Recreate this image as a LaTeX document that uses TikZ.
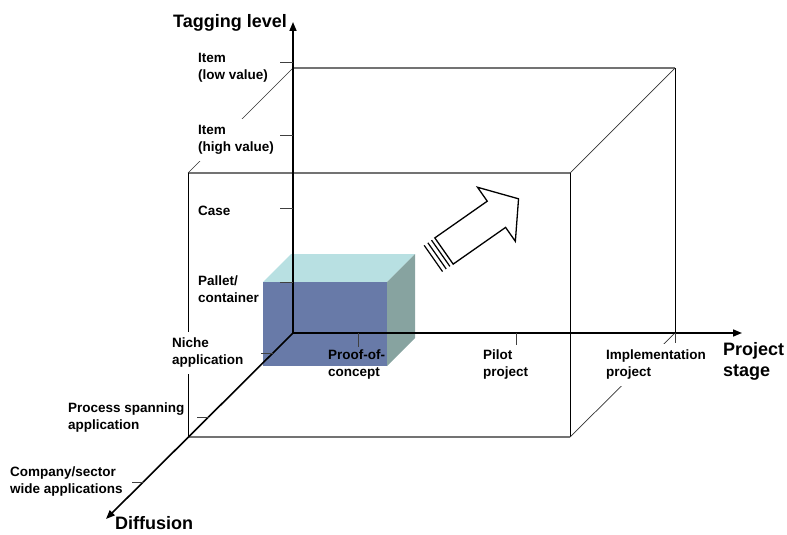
\documentclass[tikz,border=0pt]{standalone}
\usepackage{fontspec}
\setmainfont{Liberation Sans}
\usetikzlibrary{positioning,arrows.meta}

\definecolor{cubefront}{RGB}{104,122,168}
\definecolor{cubetop}{RGB}{184,224,226}
\definecolor{cubeside}{RGB}{135,163,160}

\tikzset{
  axisline/.style={black, line width=1.6pt, -{Triangle[length=9pt,width=7pt]}},
  edgeflat/.style={black!55, line width=1.2pt},
  edgeup/.style={black, line width=0.8pt},
  edgedepth/.style={black!80, line width=0.7pt},
  tickline/.style={black!75, line width=0.9pt},
  lbl/.style={font=\bfseries\fontsize{13.5}{17}\selectfont, align=left, inner sep=0pt},
  biglbl/.style={font=\bfseries\fontsize{18}{21}\selectfont, align=left, inner sep=0pt},
  masked/.style={fill=white, inner xsep=7pt, inner ysep=6pt},
  blockarrow/.style={draw=black, fill=white, line width=1.3pt, line join=miter},
}

\begin{document}
\begin{tikzpicture}[x=1pt,y=-1pt]
  \useasboundingbox (0,0) rectangle (787,535);
  \clip (0,0) rectangle (787,535);

  % axes origin and tips
  \coordinate (O) at (293,333);
  \coordinate (Ytip) at (293,22);
  \coordinate (Xtip) at (742,333);
  \coordinate (Ztip) at (106,519);

  % wire box
  \coordinate (bTL) at (293,68);
  \coordinate (bTR) at (675,68);
  \coordinate (bBR) at (675,333);
  \coordinate (fTL) at (188,173);
  \coordinate (fTR) at (570,173);
  \coordinate (fBR) at (570,437);
  \coordinate (fBL) at (188,437);
  \draw[edgeflat] (bTL) -- (bTR);
  \draw[edgeflat] (fTL) -- (fTR);
  \draw[edgeflat] (fBL) -- (fBR);
  \draw[edgeup] (bTR) -- (bBR);
  \draw[edgeup] (fTL) -- (fBL);
  \draw[edgeup] (fTR) -- (fBR);
  \draw[edgedepth] (fTL) -- (bTL);
  \draw[edgedepth] (fTR) -- (bTR);
  \draw[edgedepth] (fBR) -- (bBR);

  % proof-of-concept block
  \coordinate (cA) at (263,282);
  \coordinate (cB) at (387,282);
  \coordinate (cC) at (387,366);
  \coordinate (cD) at (263,366);
  \fill[cubetop] (cA) -- ++(28,-28) -- ++(124,0) -- (cB) -- cycle;
  \fill[cubeside] (cB) -- ++(28,-28) -- ++(0,84) -- (cC) -- cycle;
  \fill[cubefront] (cA) rectangle (cC);

  % moving arrow
  \begin{scope}[shift={(444,251)}, rotate=35]
    \draw[blockarrow] (0,-16) -- (64,-16) -- (64,-33) -- (91,0)
      -- (64,33) -- (64,16) -- (0,16) -- cycle;
    \foreach \s in {-4,-8.5,-13}
      \draw[line width=1.2pt] (\s,-16) -- (\s,16);
  \end{scope}

  % labels
  \node[lbl, anchor=west] (lowval) at (198,68) {Item\\(low value)};
  \node[lbl, masked, anchor=west] (highval) at (191,140) {Item\\(high value)};
  \node[lbl, anchor=west] (case) at (198,211) {Case};
  \node[lbl, anchor=west] (pallet) at (198,289) {Pallet/\\container};
  \node[lbl, masked, anchor=west] (niche) at (165,353) {Niche\\application};
  \node[lbl, anchor=west] (spanning) at (68,418) {Process spanning\\application};
  \node[lbl, anchor=west] (sector) at (10,482) {Company/sector\\wide applications};
  \node[lbl, anchor=west] (proof) at (328,365) {Proof-of-\\concept};
  \node[lbl, anchor=west] (pilot) at (483,365) {Pilot\\project};
  \node[lbl, masked, anchor=west] (implement) at (599,365) {Implementation\\project};
  \node[biglbl, anchor=base east] (tagging) at (287,28) {Tagging level};
  \node[biglbl, anchor=west] (stage) at (723,361) {Project\\stage};
  \node[biglbl, anchor=base west] (diffusion) at (115,529) {Diffusion};

  % axes
  \draw[axisline] (O) -- (Ytip);
  \draw[axisline] (O) -- (Xtip);
  \draw[axisline] (O) -- (Ztip);

  % ticks
  \foreach \y in {62,135,208,282}
    \draw[tickline] (293,\y) -- ++(-13,0);
  \foreach \x/\l in {358/14,516/12,675/10}
    \draw[tickline] (\x,333) -- ++(0,\l);
  \foreach \y in {353,417,482}
    \draw[tickline] (293-\y+333,\y) -- ++(-12,0);
\end{tikzpicture}
\end{document}
